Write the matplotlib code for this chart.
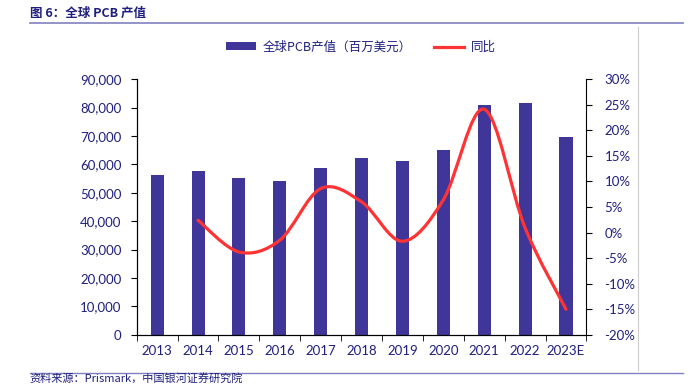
import numpy as np
import matplotlib
matplotlib.use('Agg')
import matplotlib.pyplot as plt
from matplotlib.path import Path
from matplotlib.patches import PathPatch
from matplotlib.lines import Line2D
from matplotlib.ticker import FuncFormatter, MultipleLocator

plt.rcParams['font.family'] = ['Lato', 'Noto Sans CJK SC', 'DejaVu Sans']

# Data
years = ['2013', '2014', '2015', '2016', '2017', '2018', '2019', '2020', '2021', '2022', '2023E']
output = [56200, 57600, 55300, 54200, 58800, 62400, 61300, 65200, 81000, 81700, 69500]
yoy = [None, 2.4, -3.8, -1.5, 8.6, 6.0, -1.7, 6.4, 24.1, 0.9, -15.0]

navy = '#1f1f80'
bar_color = '#40369a'
red = '#ff3333'

fig = plt.figure(figsize=(6.94, 3.84), dpi=100)
ax = fig.add_axes([0.197, 0.128, 0.648, 0.666])
x = np.arange(len(years))
bars = ax.bar(x, output, width=0.32, color=bar_color, zorder=2)
ax.set_xlim(-0.5, len(years) - 0.5)
ax.set_ylim(0, 90000)
ax.yaxis.set_major_locator(MultipleLocator(10000))
ax.yaxis.set_major_formatter(FuncFormatter(lambda v, p: '{:,.0f}'.format(v)))
ax.set_xticks(x)
ax.set_xticklabels(years)
ax.set_xticks(np.arange(-0.5, len(years), 1), minor=True)
ax.tick_params(axis='x', which='major', length=0, pad=7, labelsize=9.5, labelcolor=navy)
ax.tick_params(axis='x', which='minor', length=4, direction='out')
ax.tick_params(axis='y', length=4, direction='out', labelsize=9.5, labelcolor=navy, pad=7)
ax.spines['top'].set_visible(False)
ax.spines['right'].set_visible(False)

ax2 = ax.twinx()
ax2.set_ylim(-20, 30)
ax2.yaxis.set_major_locator(MultipleLocator(5))
ax2.yaxis.set_major_formatter(FuncFormatter(lambda v, p: '{:.0f}%'.format(v)))
ax2.tick_params(axis='y', length=4, direction='out', labelsize=9.5, labelcolor=navy, pad=9)
ax2.spines['top'].set_visible(False)

# smoothed line (Excel style bezier through the yoy points)
px = np.array([i for i, v in enumerate(yoy) if v is not None], float)
py = np.array([v for v in yoy if v is not None], float)
pts = np.column_stack([px, py])
verts = [pts[0]]
codes = [Path.MOVETO]
n = len(pts)
for i in range(n - 1):
    p0 = pts[max(i - 1, 0)]
    p1 = pts[i]
    p2 = pts[i + 1]
    p3 = pts[min(i + 2, n - 1)]
    c1 = p1 + (p2 - p0) / 6.0
    c2 = p2 - (p3 - p1) / 6.0
    verts += [c1, c2, p2]
    codes += [Path.CURVE4] * 3
ax2.add_patch(PathPatch(Path(verts, codes), facecolor='none', edgecolor=red,
                        lw=2.3, capstyle='round', zorder=3))

handles = [bars, Line2D([], [], color=red, lw=2.3)]
fig.legend(handles, ['全球PCB产值（百万美元）', '同比'], loc='center',
           bbox_to_anchor=(0.52, 0.877), ncol=2, frameon=False,
           handlelength=2.4, handleheight=0.6, columnspacing=1.8, handletextpad=0.5,
           labelcolor=navy, prop={'family': ['Noto Sans CJK SC'], 'size': 9})

# header / footer
fig.text(0.043, 0.965, '图 6：全球 PCB 产值', fontsize=9, fontweight='bold',
         color=navy, family=['Noto Sans CJK SC'], va='center')
fig.add_artist(Line2D([0.043, 0.984], [0.94, 0.94], color='#8080c0', lw=1.2))
fig.add_artist(Line2D([0.043, 0.984], [0.029, 0.029], color='#8080c0', lw=1.0))
fig.add_artist(Line2D([0.919, 0.919], [0.93, 0.036], color='#cccccc', lw=0.8))
fig.text(0.043, 0.0, '资料来源：Prismark，中国银河证券研究院', fontsize=8,
         color=navy, family=['Noto Sans CJK SC'], va='bottom', style='italic')

fig.savefig('out.png', dpi=100)
